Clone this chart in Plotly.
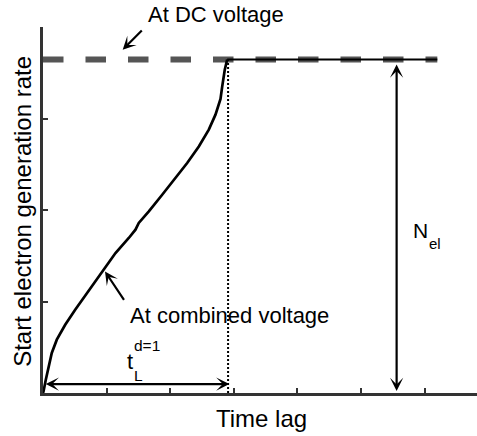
import plotly.graph_objects as go

# ---- data ----
curve_x = [0, 0.008, 0.044, 0.086, 0.138, 0.217, 0.349, 0.506, 0.715, 0.96, 1.140, 1.349,
           1.454, 1.506, 1.664, 1.874, 2.057, 2.267, 2.450, 2.607, 2.712, 2.791, 2.818,
           2.858, 2.896]
curve_y = [0, 0.017, 0.145, 0.291, 0.437, 0.583, 0.746, 0.910, 1.110, 1.348, 1.530, 1.694,
           1.785, 1.858, 1.985, 2.167, 2.331, 2.514, 2.695, 2.878, 3.042, 3.213, 3.351,
           3.533, 3.645]
dc_level = 3.645
dc_x = [0, 6.2]
sat_x = [2.896, 6.2]
td_x = 2.91          # time lag at d=1 (dotted line)
nel_x = 5.56         # position of N_el double arrow
tl_arrow_y = 0.098   # height of t_L double arrow
x_ticks = [0, 1, 2, 3, 4, 5, 6]
y_ticks = [0, 1, 2, 3, 4]
x_max = 434 / 63.6
y_max = 4

FONT = "Liberation Sans, Arial, sans-serif"

fig = go.Figure()
fig.add_trace(go.Scatter(x=dc_x, y=[dc_level, dc_level], mode="lines",
                         line=dict(color="#555555", width=6, dash="20.5px,22px"),
                         hoverinfo="skip"))
fig.add_trace(go.Scatter(x=sat_x, y=[dc_level, dc_level], mode="lines",
                         line=dict(color="black", width=2), hoverinfo="skip"))
fig.add_trace(go.Scatter(x=curve_x, y=curve_y, mode="lines",
                         line=dict(color="black", width=2.7), hoverinfo="skip"))
fig.add_trace(go.Scatter(x=[td_x, td_x], y=[0, dc_level], mode="lines",
                         line=dict(color="black", width=2, dash="2px,2px"), hoverinfo="skip"))


def arrow(x, y, ax, ay, side="end"):
    return dict(x=x, y=y, ax=ax, ay=ay, xref="x", yref="y", axref="x", ayref="y",
                text="", showarrow=True, arrowhead=3, startarrowhead=3, arrowside=side,
                arrowsize=1, startarrowsize=1, arrowwidth=2.2, arrowcolor="black",
                standoff=0, startstandoff=0)


def label(x, y, text, size, ref="data", **kw):
    if ref == "paper":
        d = dict(x=x, y=y, xref="paper", yref="paper")
    else:
        d = dict(x=x, y=y, xref="x", yref="y")
    d.update(text=text, showarrow=False, borderpad=0,
             font=dict(family=FONT, size=size, color="black"),
             xanchor="center", yanchor="middle")
    d.update(kw)
    return d


annotations = [
    arrow(1.253, 3.752, 1.577, 3.978),
    arrow(0.975, 1.329, 1.289, 1.001),
    arrow(nel_x, dc_level - 0.055, nel_x, 0.005, side="end+start"),
    arrow(td_x + 0.02, tl_arrow_y, 0.02, tl_arrow_y, side="end+start"),
    label(0.399, 1.0328, "At DC voltage", 22, ref="paper"),
    label(2.928, 0.847, "At combined voltage", 22),
    label(5.928, 1.781, "N", 21),
    label(6.164, 1.639, "el", 15),
    label(1.375, 0.345, "t", 22),
    label(1.643, 0.514, "d=1", 15.5),
    label(1.50, 0.186, "L", 15.5),
    label(0.504, -0.069, "Time lag", 24, ref="paper"),
    label(-0.049, 0.497, "Start electron generation rate", 24, ref="paper", textangle=-90),
]

fig.update_layout(
    width=477, height=436,
    margin=dict(l=43, r=0, t=27, b=43),
    paper_bgcolor="white", plot_bgcolor="white",
    showlegend=False,
    annotations=annotations,
    xaxis=dict(range=[0, x_max], showgrid=False, zeroline=False,
               showline=True, linecolor="#333333", linewidth=2.5,
               ticks="inside", ticklen=5, tickwidth=2, tickcolor="#333333",
               tickvals=x_ticks, showticklabels=False, fixedrange=True),
    yaxis=dict(range=[0, y_max], showgrid=False, zeroline=False,
               showline=True, linecolor="#333333", linewidth=2.5,
               ticks="inside", ticklen=5, tickwidth=2, tickcolor="#333333",
               tickvals=y_ticks, showticklabels=False, fixedrange=True),
)

# remove the default 8px page margin so the figure fills the window exactly
fig.write_html("out.html", config={"displayModeBar": False},
               post_script="document.body.style.margin='0';")
